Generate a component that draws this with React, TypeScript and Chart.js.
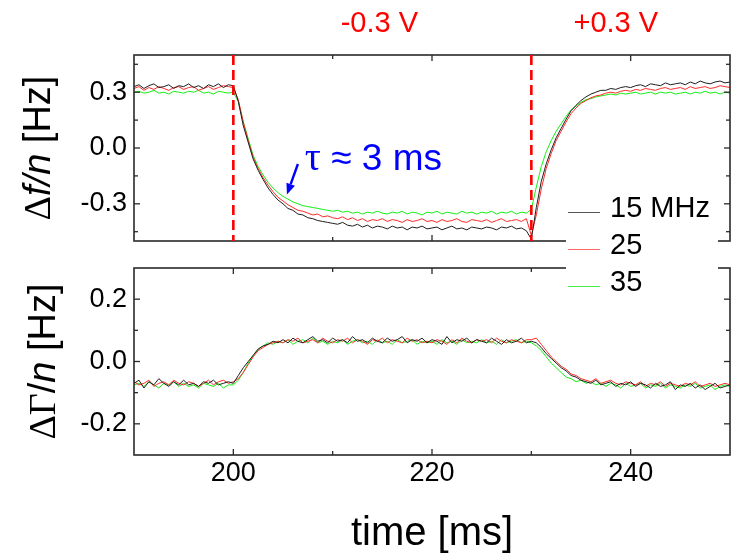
import React, { useEffect, useRef } from "react";
import { Chart, registerables } from "chart.js";
Chart.register(...registerables);

// sampling grid of the traces (ms)
const T0 = 190;
const DT = 0.5;

// Δf/n [Hz] traces, one value every 0.5 ms from 190 to 250 ms
const df15 = [
  0.33, 0.34, 0.32, 0.335, 0.345, 0.325, 0.33, 0.34, 0.32, 0.335,
  0.33, 0.345, 0.325, 0.335, 0.32, 0.34, 0.33, 0.345, 0.325, 0.34,
  0.335, 0.25, 0.12, 0.03, -0.06, -0.12, -0.17, -0.215, -0.25, -0.28,
  -0.3, -0.325, -0.335, -0.355, -0.36, -0.375, -0.38, -0.39, -0.395, -0.4,
  -0.405, -0.41, -0.4, -0.415, -0.42, -0.41, -0.425, -0.415, -0.43, -0.42,
  -0.425, -0.435, -0.42, -0.43, -0.425, -0.44, -0.425, -0.43, -0.42, -0.435,
  -0.43, -0.425, -0.44, -0.43, -0.42, -0.435, -0.43, -0.44, -0.425, -0.43,
  -0.435, -0.425, -0.43, -0.44, -0.425, -0.43, -0.42, -0.435, -0.43, -0.445,
  -0.49, -0.32, -0.18, -0.085, -0.01, 0.055, 0.105, 0.155, 0.2, 0.23,
  0.255, 0.275, 0.29, 0.3, 0.31, 0.31, 0.32, 0.315, 0.325, 0.33,
  0.325, 0.335, 0.34, 0.33, 0.345, 0.34, 0.335, 0.35, 0.34, 0.345,
  0.35, 0.34, 0.355, 0.345, 0.36, 0.35, 0.345, 0.355, 0.36, 0.35,
  0.355,
];
const df25 = [
  0.32, 0.33, 0.31, 0.325, 0.315, 0.33, 0.32, 0.31, 0.325, 0.33,
  0.315, 0.325, 0.33, 0.31, 0.32, 0.33, 0.315, 0.325, 0.335, 0.33,
  0.325, 0.26, 0.14, 0.04, -0.05, -0.11, -0.16, -0.2, -0.235, -0.265,
  -0.285, -0.305, -0.32, -0.335, -0.34, -0.35, -0.36, -0.355, -0.37, -0.365,
  -0.375, -0.38, -0.37, -0.385, -0.375, -0.39, -0.38, -0.395, -0.385, -0.39,
  -0.38, -0.395, -0.385, -0.39, -0.4, -0.385, -0.395, -0.39, -0.38, -0.395,
  -0.39, -0.4, -0.385, -0.395, -0.39, -0.38, -0.395, -0.4, -0.385, -0.39,
  -0.395, -0.385, -0.4, -0.39, -0.38, -0.395, -0.39, -0.385, -0.395, -0.38,
  -0.47, -0.36, -0.22, -0.11, -0.03, 0.04, 0.09, 0.14, 0.185, 0.215,
  0.24, 0.255, 0.27, 0.28, 0.285, 0.295, 0.3, 0.295, 0.305, 0.31,
  0.305, 0.315, 0.31, 0.32, 0.315, 0.31, 0.32, 0.325, 0.315, 0.32,
  0.325, 0.315, 0.33, 0.32, 0.325, 0.33, 0.32, 0.325, 0.335, 0.33,
  0.325,
];
const df35 = [
  0.3, 0.305, 0.295, 0.3, 0.31, 0.295, 0.3, 0.29, 0.305, 0.3,
  0.295, 0.305, 0.3, 0.31, 0.295, 0.3, 0.29, 0.305, 0.3, 0.295,
  0.3, 0.25, 0.14, 0.05, -0.04, -0.1, -0.145, -0.185, -0.215, -0.24,
  -0.26, -0.275, -0.29, -0.3, -0.31, -0.315, -0.32, -0.325, -0.33, -0.335,
  -0.34, -0.335, -0.345, -0.34, -0.35, -0.345, -0.355, -0.345, -0.35, -0.34,
  -0.35, -0.355, -0.345, -0.35, -0.34, -0.355, -0.345, -0.35, -0.36, -0.345,
  -0.35, -0.34, -0.355, -0.345, -0.35, -0.355, -0.34, -0.35, -0.345, -0.355,
  -0.345, -0.35, -0.34, -0.355, -0.345, -0.35, -0.34, -0.355, -0.345, -0.35,
  -0.33, -0.21, -0.1, -0.02, 0.04, 0.09, 0.13, 0.17, 0.205, 0.225,
  0.245, 0.26, 0.265, 0.275, 0.28, 0.285, 0.29, 0.285, 0.295, 0.29,
  0.295, 0.3, 0.29, 0.295, 0.3, 0.29, 0.3, 0.295, 0.3, 0.29,
  0.295, 0.3, 0.29, 0.3, 0.295, 0.305, 0.295, 0.3, 0.29, 0.3,
  0.295,
];

// ΔΓ/n [Hz] traces, same sampling
const dg15 = [
  -0.07, -0.06, -0.085, -0.065, -0.075, -0.055, -0.07, -0.08, -0.065, -0.075,
  -0.06, -0.075, -0.07, -0.08, -0.065, -0.07, -0.06, -0.075, -0.07, -0.065,
  -0.07, -0.045, -0.02, 0.0, 0.02, 0.04, 0.05, 0.055, 0.065, 0.06,
  0.07, 0.06, 0.075, 0.065, 0.06, 0.07, 0.08, 0.065, 0.07, 0.06,
  0.075, 0.065, 0.07, 0.06, 0.08, 0.065, 0.07, 0.06, 0.075, 0.065,
  0.06, 0.075, 0.065, 0.07, 0.08, 0.06, 0.07, 0.065, 0.075, 0.06,
  0.07, 0.065, 0.055, 0.08, 0.06, 0.07, 0.065, 0.075, 0.06, 0.07,
  0.065, 0.06, 0.075, 0.065, 0.055, 0.07, 0.06, 0.065, 0.075, 0.06,
  0.065, 0.06, 0.045, 0.025, 0.01, -0.005, -0.02, -0.03, -0.045, -0.05,
  -0.06, -0.065, -0.07, -0.06, -0.075, -0.07, -0.065, -0.08, -0.07, -0.075,
  -0.065, -0.08, -0.07, -0.075, -0.085, -0.07, -0.08, -0.075, -0.065, -0.09,
  -0.075, -0.08, -0.07, -0.085, -0.075, -0.09, -0.08, -0.07, -0.085, -0.08,
  -0.075,
];
const dg25 = [
  -0.065, -0.075, -0.07, -0.06, -0.08, -0.07, -0.065, -0.075, -0.06, -0.07,
  -0.075, -0.065, -0.07, -0.08, -0.07, -0.06, -0.075, -0.065, -0.06, -0.07,
  -0.065, -0.055, -0.035, -0.01, 0.015, 0.035, 0.045, 0.055, 0.06, 0.065,
  0.06, 0.07, 0.065, 0.075, 0.06, 0.065, 0.07, 0.06, 0.075, 0.065,
  0.06, 0.07, 0.065, 0.075, 0.06, 0.07, 0.065, 0.055, 0.07, 0.065,
  0.075, 0.06, 0.07, 0.065, 0.06, 0.075, 0.065, 0.07, 0.06, 0.065,
  0.06, 0.07, 0.065, 0.055, 0.07, 0.06, 0.075, 0.065, 0.06, 0.07,
  0.065, 0.07, 0.06, 0.075, 0.065, 0.06, 0.07, 0.065, 0.06, 0.07,
  0.07, 0.075, 0.055, 0.035, 0.015, 0.0, -0.015, -0.025, -0.04, -0.045,
  -0.055, -0.06, -0.065, -0.055, -0.07, -0.065, -0.06, -0.07, -0.075, -0.065,
  -0.07, -0.075, -0.065, -0.08, -0.07, -0.075, -0.065, -0.08, -0.07, -0.075,
  -0.08, -0.07, -0.075, -0.065, -0.08, -0.075, -0.07, -0.08, -0.075, -0.07,
  -0.075,
];
const dg35 = [
  -0.075, -0.07, -0.08, -0.065, -0.075, -0.085, -0.07, -0.075, -0.065, -0.08,
  -0.07, -0.08, -0.075, -0.085, -0.07, -0.075, -0.08, -0.07, -0.085, -0.075,
  -0.075, -0.06, -0.035, -0.005, 0.02, 0.04, 0.05, 0.06, 0.055, 0.065,
  0.06, 0.07, 0.055, 0.065, 0.07, 0.06, 0.075, 0.06, 0.065, 0.055,
  0.065, 0.06, 0.07, 0.055, 0.065, 0.07, 0.06, 0.065, 0.055, 0.07,
  0.06, 0.065, 0.055, 0.07, 0.06, 0.065, 0.07, 0.055, 0.065, 0.06,
  0.065, 0.055, 0.07, 0.06, 0.065, 0.055, 0.07, 0.06, 0.065, 0.06,
  0.07, 0.06, 0.065, 0.055, 0.07, 0.06, 0.065, 0.07, 0.06, 0.065,
  0.06, 0.05, 0.035, 0.015, -0.005, -0.02, -0.035, -0.05, -0.055, -0.065,
  -0.06, -0.07, -0.065, -0.075, -0.07, -0.08, -0.07, -0.075, -0.085, -0.07,
  -0.08, -0.075, -0.07, -0.085, -0.075, -0.08, -0.07, -0.085, -0.075, -0.08,
  -0.085, -0.075, -0.08, -0.07, -0.085, -0.08, -0.075, -0.09, -0.08, -0.075,
  -0.08,
];

const seriesLabels = ["15 MHz", "25", "35"];
const seriesColors = ["#1e1e1e", "#ff2a2a", "#14f014"];
const legendColors = ["#555555", "#ff6666", "#44ee44"];

const xMin = 190;
const xMax = 250;
const xTickValues = [200, 210, 220, 230, 240];
const xLabelValues = [200, 220, 240];

const topYMin = -0.5;
const topYMax = 0.5;
const topYTickValues = [-0.45, -0.3, -0.15, 0, 0.15, 0.3, 0.45];
const topYLabelValues = [-0.3, 0, 0.3];

const botYMin = -0.3;
const botYMax = 0.3;
const botYTickValues = [-0.2, -0.1, 0, 0.1, 0.2];
const botYLabelValues = [-0.2, 0, 0.2];

const switchTimes = [200, 230];
const voltageLabels = ["-0.3 V", "+0.3 V"];
const voltageLabelTimes = [214.7, 238.5];

const SANS = '"Liberation Sans", Arial, sans-serif';
const SERIF = '"Liberation Serif", "Times New Roman", serif';

const toPoints = (arr: number[]) => arr.map((y, i) => ({ x: T0 + i * DT, y }));

type Part = { t: string; f: string };

function drawParts(ctx: CanvasRenderingContext2D, parts: Part[], x: number, y: number, align: "left" | "center") {
  let total = 0;
  const widths = parts.map((p) => {
    ctx.font = p.f;
    const w = ctx.measureText(p.t).width;
    total += w;
    return w;
  });
  let cx = align === "center" ? x - total / 2 : x;
  ctx.textAlign = "left";
  ctx.textBaseline = "alphabetic";
  parts.forEach((p, i) => {
    ctx.font = p.f;
    ctx.fillText(p.t, cx, y);
    cx += widths[i];
  });
}

function makeFramePlugin(id: string, yTicks: number[], yMajor: number[]) {
  return {
    id,
    afterDatasetsDraw(chart: any) {
      const { ctx, chartArea: a, scales } = chart;
      ctx.save();
      ctx.strokeStyle = "#2a2a2a";
      ctx.lineWidth = 1.6;
      ctx.strokeRect(a.left, a.top, a.right - a.left, a.bottom - a.top);
      ctx.lineWidth = 1.3;
      const seg = (x1: number, y1: number, x2: number, y2: number) => {
        ctx.beginPath();
        ctx.moveTo(x1, y1);
        ctx.lineTo(x2, y2);
        ctx.stroke();
      };
      xTickValues.forEach((v) => {
        const px = scales.x.getPixelForValue(v);
        const len = xLabelValues.includes(v) ? 6 : 4;
        seg(px, a.top, px, a.top + len);
        seg(px, a.bottom, px, a.bottom - len);
      });
      yTicks.forEach((v) => {
        const py = scales.y.getPixelForValue(v);
        const len = yMajor.includes(v) ? 6 : 4;
        seg(a.left, py, a.left + len, py);
        seg(a.right, py, a.right - len, py);
      });
      ctx.restore();
    },
  };
}

const topExtras = {
  id: "topExtras",
  afterDatasetsDraw(chart: any) {
    const { ctx, chartArea: a, scales } = chart;
    ctx.save();
    // voltage switch lines
    ctx.strokeStyle = "#ff0000";
    ctx.lineWidth = 2.6;
    ctx.setLineDash([10, 5]);
    switchTimes.forEach((t) => {
      const px = scales.x.getPixelForValue(t);
      ctx.beginPath();
      ctx.moveTo(px, a.top);
      ctx.lineTo(px, a.bottom);
      ctx.stroke();
    });
    ctx.setLineDash([]);
    // voltage labels
    ctx.fillStyle = "#ff0000";
    voltageLabels.forEach((txt, i) => {
      const px = scales.x.getPixelForValue(voltageLabelTimes[i]);
      drawParts(ctx, [{ t: txt, f: `29px ${SANS}` }], px, a.top - 23, "center");
    });
    // tau annotation
    ctx.fillStyle = "#0000ff";
    ctx.strokeStyle = "#0000ff";
    const tx = scales.x.getPixelForValue(207.2);
    const ty = scales.y.getPixelForValue(-0.119);
    drawParts(ctx, [{ t: "τ", f: `40px ${SERIF}` }, { t: " ≈ 3 ms", f: `37px ${SANS}` }], tx, ty, "left");
    const ax1 = scales.x.getPixelForValue(206.5);
    const ay1 = scales.y.getPixelForValue(-0.086);
    const ax2 = scales.x.getPixelForValue(205.4);
    const ay2 = scales.y.getPixelForValue(-0.25);
    const ang = Math.atan2(ay2 - ay1, ax2 - ax1);
    const headLen = 11;
    const hx = ax2 - headLen * Math.cos(ang);
    const hy = ay2 - headLen * Math.sin(ang);
    ctx.lineWidth = 2.4;
    ctx.beginPath();
    ctx.moveTo(ax1, ay1);
    ctx.lineTo(hx, hy);
    ctx.stroke();
    ctx.beginPath();
    ctx.moveTo(ax2, ay2);
    ctx.lineTo(hx + 4.5 * Math.sin(ang), hy - 4.5 * Math.cos(ang));
    ctx.lineTo(hx - 4.5 * Math.sin(ang), hy + 4.5 * Math.cos(ang));
    ctx.closePath();
    ctx.fill();
    // y title
    ctx.fillStyle = "#000";
    ctx.translate(50, (a.top + a.bottom) / 2);
    ctx.rotate(-Math.PI / 2);
    drawParts(
      ctx,
      [
        { t: "Δ", f: `38px ${SERIF}` },
        { t: "f", f: `italic 38px ${SANS}` },
        { t: "/", f: `italic 38px ${SANS}` },
        { t: "n", f: `italic 38px ${SANS}` },
        { t: " [Hz]", f: `38px ${SANS}` },
      ],
      0,
      0,
      "center"
    );
    ctx.restore();
  },
};

const botExtras = {
  id: "botExtras",
  afterDraw(chart: any) {
    const { ctx, chartArea: a } = chart;
    ctx.save();
    // y title
    ctx.fillStyle = "#000";
    ctx.save();
    ctx.translate(55, (a.top + a.bottom) / 2);
    ctx.rotate(-Math.PI / 2);
    drawParts(
      ctx,
      [
        { t: "ΔΓ", f: `38px ${SERIF}` },
        { t: "/", f: `38px ${SANS}` },
        { t: "n", f: `italic 38px ${SANS}` },
        { t: " [Hz]", f: `38px ${SANS}` },
      ],
      0,
      0,
      "center"
    );
    ctx.restore();
    // legend
    const bx = a.right - 164;
    ctx.fillStyle = "#ffffff";
    ctx.fillRect(bx, a.top - 76, 152, 106);
    const rows = [a.top - 56, a.top - 19, a.top + 18];
    seriesLabels.forEach((lab, i) => {
      ctx.strokeStyle = legendColors[i];
      ctx.lineWidth = 1;
      ctx.beginPath();
      ctx.moveTo(a.right - 162, rows[i] + 0.5);
      ctx.lineTo(a.right - 130, rows[i] + 0.5);
      ctx.stroke();
      ctx.fillStyle = "#000";
      drawParts(ctx, [{ t: lab, f: `29px ${SANS}` }], a.right - 120, rows[i] + 5, "left");
    });
    ctx.restore();
  },
};

function datasetsFrom(series: number[][]) {
  return series.map((d, i) => ({
    label: seriesLabels[i],
    data: toPoints(d),
    borderColor: seriesColors[i],
    backgroundColor: seriesColors[i],
    borderWidth: 1,
    pointRadius: 0,
    tension: 0,
    fill: false,
  }));
}

const tickFont = { family: SANS, size: 27 };

export default function App() {
  const topRef = useRef<HTMLCanvasElement>(null);
  const botRef = useRef<HTMLCanvasElement>(null);

  useEffect(() => {
    const top = new Chart(topRef.current as HTMLCanvasElement, {
      type: "line",
      data: { datasets: datasetsFrom([df15, df25, df35]) as any },
      options: {
        animation: false,
        responsive: false,
        devicePixelRatio: 1,
        layout: { padding: { left: 0, right: 16, top: 55, bottom: 317 } },
        plugins: { legend: { display: false }, tooltip: { enabled: false } },
        scales: {
          x: { type: "linear", min: xMin, max: xMax, display: false },
          y: {
            type: "linear",
            min: topYMin,
            max: topYMax,
            afterFit: (s: any) => {
              s.width = 134;
            },
            afterBuildTicks: (s: any) => {
              s.ticks = topYLabelValues.map((v) => ({ value: v }));
            },
            grid: { display: false, drawTicks: false },
            border: { display: false },
            ticks: {
              font: tickFont,
              color: "#000",
              padding: 7,
              callback: (v: any) => Number(v).toFixed(1),
            },
          },
        },
      } as any,
      plugins: [makeFramePlugin("topFrame", topYTickValues, topYLabelValues), topExtras],
    });

    const bot = new Chart(botRef.current as HTMLCanvasElement, {
      type: "line",
      data: { datasets: datasetsFrom([dg15, dg25, dg35]) as any },
      options: {
        animation: false,
        responsive: false,
        devicePixelRatio: 1,
        layout: { padding: { left: 0, right: 16, top: 268, bottom: 0 } },
        plugins: { legend: { display: false }, tooltip: { enabled: false } },
        scales: {
          x: {
            type: "linear",
            min: xMin,
            max: xMax,
            afterFit: (s: any) => {
              s.height = 103;
            },
            afterBuildTicks: (s: any) => {
              s.ticks = xLabelValues.map((v) => ({ value: v }));
            },
            grid: { display: false, drawTicks: false },
            border: { display: false },
            ticks: { font: tickFont, color: "#000", padding: 2, maxRotation: 0, callback: (v: any) => String(v) },
            title: {
              display: true,
              text: "time [ms]",
              color: "#000",
              font: { family: SANS, size: 40 },
              padding: { top: 0, bottom: 0 },
            },
          },
          y: {
            type: "linear",
            min: botYMin,
            max: botYMax,
            afterFit: (s: any) => {
              s.width = 134;
            },
            afterBuildTicks: (s: any) => {
              s.ticks = botYLabelValues.map((v) => ({ value: v }));
            },
            grid: { display: false, drawTicks: false },
            border: { display: false },
            ticks: {
              font: tickFont,
              color: "#000",
              padding: 7,
              callback: (v: any) => Number(v).toFixed(1),
            },
          },
        },
      } as any,
      plugins: [makeFramePlugin("botFrame", botYTickValues, botYLabelValues), botExtras],
    });

    return () => {
      top.destroy();
      bot.destroy();
    };
  }, []);

  const cs: React.CSSProperties = { position: "absolute", left: 0, top: 0, width: 746, height: 558 };
  return (
    <div style={{ position: "absolute", left: 0, top: 0, width: 746, height: 558, background: "#fff" }}>
      <canvas ref={topRef} width={746} height={558} style={cs} />
      <canvas ref={botRef} width={746} height={558} style={cs} />
    </div>
  );
}
